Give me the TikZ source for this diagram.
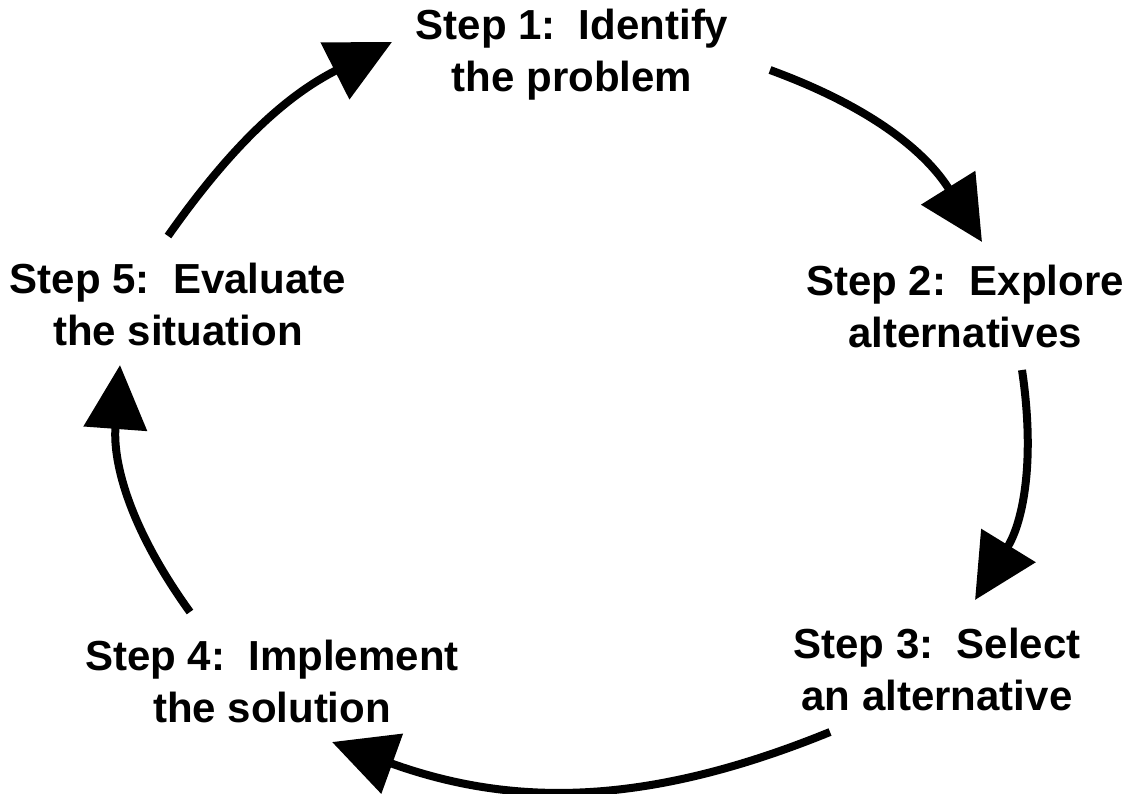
\documentclass[tikz,border=0pt]{standalone}
\usepackage{fontspec}
\setmainfont{Liberation Sans}
\usetikzlibrary{arrows.meta}
\tikzset{
  steplabel/.style={align=center, inner sep=0pt, font=\bfseries\fontsize{21}{26}\selectfont},
  cyclearrow/.style={line width=4pt, -{Triangle[length=32pt,width=31pt]}},
}
\begin{document}
\begin{tikzpicture}[x=0.5pt,y=-0.5pt]
\useasboundingbox (0,0) rectangle (1128,793);
\node[steplabel] (s1) at (572,55) {Step 1:\ \ Identify\\the problem};
\node[steplabel] (s2) at (965,306) {Step 2:\ \ Explore\\alternatives};
\node[steplabel] (s3) at (937,669) {Step 3:\ \ Select\\an alternative};
\node[steplabel] (s4) at (272,681) {Step 4:\ \ Implement\\the solution};
\node[steplabel] (s5) at (178,304) {Step 5:\ \ Evaluate\\the situation};
\coordinate (a1s) at (168,236);
\coordinate (a1e) at (392,42);
\coordinate (a2s) at (770,70);
\coordinate (a2e) at (982,242);
\coordinate (a3s) at (1022,370);
\coordinate (a3e) at (975,600);
\coordinate (a4s) at (830,732);
\coordinate (a4e) at (332,742);
\coordinate (a5s) at (190,612);
\coordinate (a5e) at (120,365);
\draw[cyclearrow] (a1s) to[bend left=14] (a1e);
\draw[cyclearrow] (a2s) to[bend left=19] (a2e);
\draw[cyclearrow] (a3s) to[bend left=20] (a3e);
\draw[cyclearrow] (a4s) to[bend left=21] (a4e);
\draw[cyclearrow] (a5s) to[bend left=20] (a5e);
\end{tikzpicture}
\end{document}
